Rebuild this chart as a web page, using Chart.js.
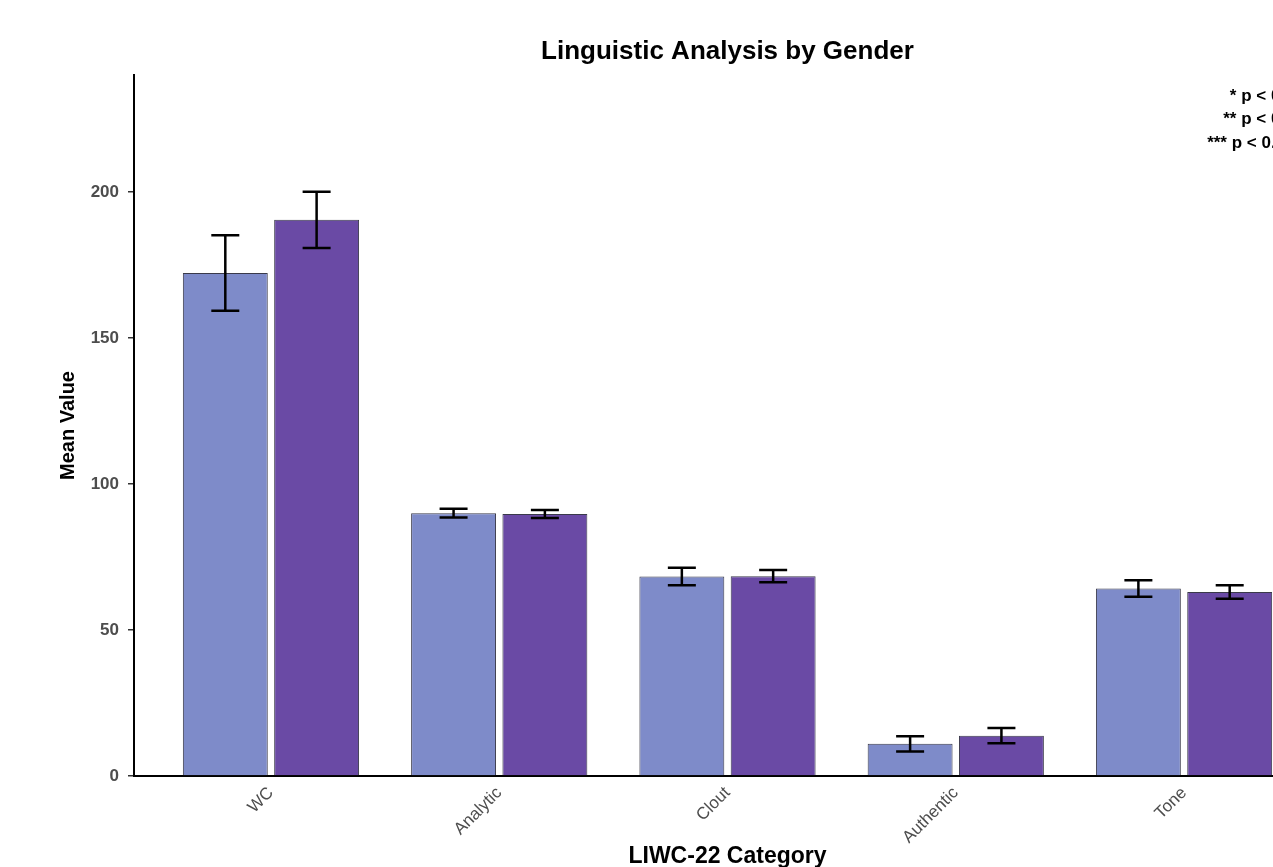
<!DOCTYPE html>
<html>
<head>
<meta charset="utf-8">
<script src="https://cdn.jsdelivr.net/npm/chart.js@4"></script>
<style>
  html, body { margin: 0; padding: 0; background: #fff; overflow: hidden; }
  #wrap { position: relative; width: 1345px; height: 867px; }
</style>
</head>
<body>
<div id="wrap"><canvas id="chart"></canvas></div>
<script>
const categories = ['WC', 'Analytic', 'Clout', 'Authentic', 'Tone'];
const femaleMeans = [172.2, 90.0, 68.3, 11.0, 64.2];
const femaleErr = [12.9, 1.5, 3.0, 2.6, 2.8];
const maleMeans = [190.4, 89.7, 68.4, 13.8, 63.0];
const maleErr = [9.6, 1.4, 2.1, 2.6, 2.3];
const yTicks = [0, 50, 100, 150, 200];
const sigNotes = ['* p < 0.05', '** p < 0.01', '*** p < 0.001'];

const FONT = "'Liberation Sans', Arial, sans-serif";

// error bars drawn on top of each bar, from the errors arrays
const errorBars = {
    id: 'errorBars',
    afterDatasetsDraw(chart) {
        const ctx = chart.ctx;
        const y = chart.scales.y;
        ctx.save();
        ctx.strokeStyle = '#000';
        ctx.lineWidth = 2.5;
        chart.data.datasets.forEach((ds, di) => {
            const meta = chart.getDatasetMeta(di);
            meta.data.forEach((bar, i) => {
                const v = ds.data[i].y;
                const e = ds.errors[i];
                const top = y.getPixelForValue(v + e);
                const bot = y.getPixelForValue(v - e);
                const half = 14;
                ctx.beginPath();
                ctx.moveTo(bar.x, top); ctx.lineTo(bar.x, bot);
                ctx.moveTo(bar.x - half, top); ctx.lineTo(bar.x + half, top);
                ctx.moveTo(bar.x - half, bot); ctx.lineTo(bar.x + half, bot);
                ctx.stroke();
            });
        });
        ctx.restore();
    }
};

// significance key, top right
const sigKey = {
    id: 'sigKey',
    afterDraw(chart) {
        const ctx = chart.ctx;
        const area = chart.chartArea;
        ctx.save();
        ctx.font = 'bold 17px ' + FONT;
        ctx.fillStyle = '#000';
        ctx.textAlign = 'right';
        ctx.textBaseline = 'middle';
        sigNotes.forEach((t, i) => {
            ctx.fillText(t, area.right - 17, area.top + 21 + i * 23.5);
        });
        ctx.restore();
    }
};

function buildChart() {
    const chartCtx = document.getElementById('chart').getContext('2d');

    new Chart(chartCtx, {
        type: 'bar',
        data: {
            datasets: [{
                label: 'Female',
                data: femaleMeans.map((v, i) => ({ x: i, y: v })),
                errors: femaleErr,
                backgroundColor: '#7E8BC9',
                borderColor: '#3a3a4a',
                borderWidth: 1
            }, {
                label: 'Male',
                data: maleMeans.map((v, i) => ({ x: i, y: v })),
                errors: maleErr,
                backgroundColor: '#6A4AA5',
                borderColor: '#3a3a4a',
                borderWidth: 1
            }]
        },
        options: {
            responsive: true,
            maintainAspectRatio: false,
            animation: false,
            categoryPercentage: 0.8,
            barPercentage: 0.93,
            layout: { padding: { left: 0, right: 24, top: 0, bottom: 0 } },
            plugins: {
                legend: { display: false },
                tooltip: { enabled: false },
                title: {
                    display: true,
                    text: 'Linguistic Analysis by Gender',
                    fullSize: false,
                    color: '#000',
                    font: { family: FONT, size: 26, weight: 'bold' },
                    padding: { top: 36.5, bottom: 7.3 }
                }
            },
            scales: {
                x: {
                    type: 'linear',
                    min: -0.6,
                    max: 4.6,
                    offset: false,
                    afterBuildTicks: s => { s.ticks = categories.map((c, i) => ({ value: i })); },
                    afterFit: s => { s.height = 91; },
                    grid: { display: false, drawTicks: false },
                    border: { display: true, color: '#000', width: 2 },
                    ticks: {
                        autoSkip: false,
                        minRotation: 45,
                        maxRotation: 45,
                        padding: 7,
                        color: '#4D4D4D',
                        font: { family: FONT, size: 17 },
                        callback: v => categories[v]
                    },
                    title: {
                        display: true,
                        text: 'LIWC-22 Category',
                        color: '#000',
                        font: { family: FONT, size: 23, weight: 'bold', lineHeight: 0.9 },
                        padding: { top: 0, bottom: 0 }
                    }
                },
                y: {
                    min: 0,
                    max: 240,
                    afterBuildTicks: s => { s.ticks = yTicks.map(v => ({ value: v })); },
                    afterFit: s => { s.width = 134; },
                    grid: {
                        display: true,
                        drawOnChartArea: false,
                        drawTicks: true,
                        tickLength: 6,
                        color: '#333',
                        lineWidth: 1.5
                    },
                    border: { display: true, color: '#000', width: 2 },
                    ticks: {
                        padding: 9,
                        color: '#4D4D4D',
                        font: { family: FONT, size: 17, weight: 'bold' }
                    },
                    title: {
                        display: true,
                        text: 'Mean Value',
                        color: '#000',
                        font: { family: FONT, size: 20, weight: 'bold' },
                        padding: { top: 56, bottom: 0 }
                    }
                }
            }
        },
        plugins: [errorBars, sigKey]
    });
}

buildChart();
</script>
</body>
</html>
